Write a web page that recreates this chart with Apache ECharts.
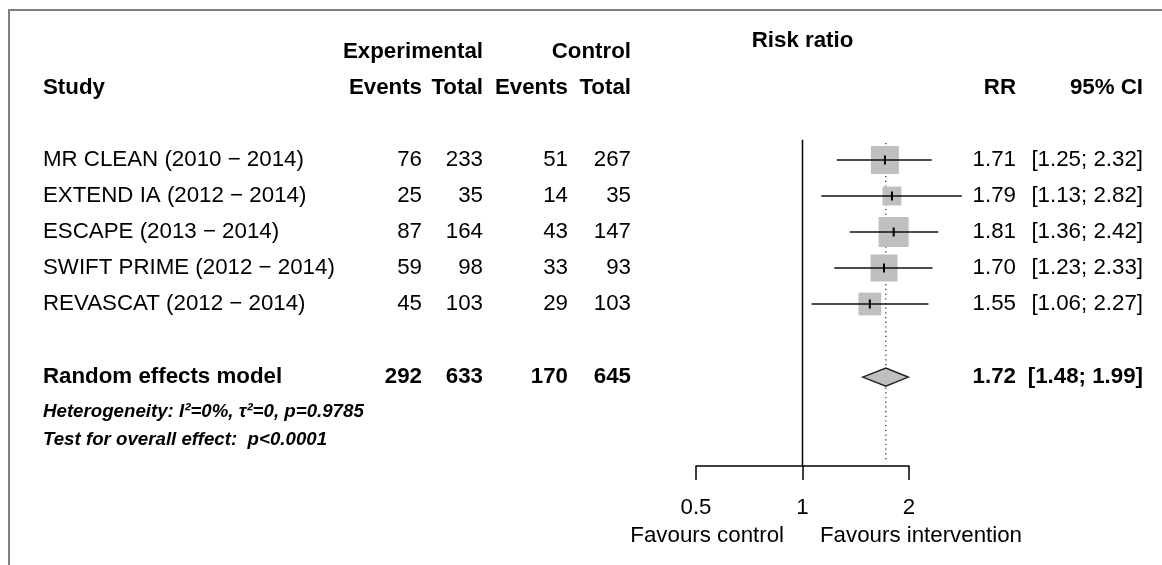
<!DOCTYPE html>
<html>
<head>
<meta charset="utf-8">
<script src="https://cdn.jsdelivr.net/npm/echarts@6/dist/echarts.min.js"></script>
<style>
html,body{margin:0;padding:0;background:#fff;}
#chart{width:1162px;height:565px;}
</style>
</head>
<body>
<div id="chart"></div>
<script>
// ---------------- data ----------------
const studies = ['MR CLEAN (2010 \u2212 2014)', 'EXTEND IA (2012 \u2212 2014)', 'ESCAPE (2013 \u2212 2014)', 'SWIFT PRIME (2012 \u2212 2014)', 'REVASCAT (2012 \u2212 2014)'];
const expEvents = [76, 25, 87, 59, 45];
const expTotal = [233, 35, 164, 98, 103];
const ctrlEvents = [51, 14, 43, 33, 29];
const ctrlTotal = [267, 35, 147, 93, 103];
const rr = [1.71, 1.79, 1.81, 1.70, 1.55];
const ciLower = [1.25, 1.13, 1.36, 1.23, 1.06];
const ciUpper = [2.32, 2.82, 2.42, 2.33, 2.27];
const weights = [23.8, 10.9, 27.4, 22.2, 15.7];
const pooledLabel = 'Random effects model';
const pooledCounts = [292, 633, 170, 645];
const pooledRR = 1.72;
const pooledCI = [1.48, 1.99];
const hetText = 'Heterogeneity: I\u00b2=0%, \u03c4\u00b2=0, p=0.9785';
const testText = 'Test for overall effect:  p<0.0001';
const xTicks = [0.5, 1, 2];
const nullValue = 1;

// ---------------- layout ----------------
const FONT = "'Liberation Sans', Arial, Helvetica, sans-serif";
const FS = 22.3;
const FS_SMALL = 18.7;
const studyRows = studies.map((s, i) => i + 1);
const pooledRow = 7.03;
const hetRow = 8;
const testRow = 8.78;
const headRow1 = -2;
const headRow2 = -1;
const riskRatioRow = -2.31;
const favoursRow = 11.44;

const colStudy = 43, colEE = 422, colET = 483, colCE = 568, colCT = 631, colRR = 1016, colCI = 1143;

const cells = [];
function cell(x, row, text, align, weight, style, size) {
  cells.push({x, row, text: String(text), align, weight: weight || 'normal', style: style || 'normal', size: size || FS});
}
// header
cell(colET, headRow1, 'Experimental', 'right', 'bold');
cell(colCT, headRow1, 'Control', 'right', 'bold');
cell(802.5, riskRatioRow, 'Risk ratio', 'center', 'bold');
cell(colStudy, headRow2, 'Study', 'left', 'bold');
cell(colEE, headRow2, 'Events', 'right', 'bold');
cell(colET, headRow2, 'Total', 'right', 'bold');
cell(colCE, headRow2, 'Events', 'right', 'bold');
cell(colCT, headRow2, 'Total', 'right', 'bold');
cell(colRR, headRow2, 'RR', 'right', 'bold');
cell(colCI, headRow2, '95% CI', 'right', 'bold');
// studies
studies.forEach((s, i) => {
  const r = studyRows[i];
  cell(colStudy, r, s, 'left');
  cell(colEE, r, expEvents[i], 'right');
  cell(colET, r, expTotal[i], 'right');
  cell(colCE, r, ctrlEvents[i], 'right');
  cell(colCT, r, ctrlTotal[i], 'right');
  cell(colRR, r, rr[i].toFixed(2), 'right');
  cell(colCI, r, '[' + ciLower[i].toFixed(2) + '; ' + ciUpper[i].toFixed(2) + ']', 'right');
});
// pooled
cell(colStudy, pooledRow, pooledLabel, 'left', 'bold');
[colEE, colET, colCE, colCT].forEach((c, k) => cell(c, pooledRow, pooledCounts[k], 'right', 'bold'));
cell(colRR, pooledRow, pooledRR.toFixed(2), 'right', 'bold');
cell(colCI, pooledRow, '[' + pooledCI[0].toFixed(2) + '; ' + pooledCI[1].toFixed(2) + ']', 'right', 'bold');
cell(colStudy, hetRow, hetText, 'left', 'bold', 'italic', FS_SMALL);
cell(colStudy, testRow, testText, 'left', 'bold', 'italic', FS_SMALL);
cell(784, favoursRow, 'Favours control', 'right');
cell(820, favoursRow, 'Favours intervention', 'left');

const maxW = Math.max.apply(null, weights);
const studyData = studies.map((s, i) => [ciLower[i], ciUpper[i], rr[i], studyRows[i], weights[i]]);

const chart = echarts.init(document.getElementById('chart'), null, {renderer: 'canvas'});
chart.setOption({
  animation: false,
  backgroundColor: '#fff',
  textStyle: {fontFamily: FONT, color: '#000'},
  graphic: [{
    type: 'polyline', z: 100,
    shape: {points: [[9, 565], [9, 10], [1162, 10]]},
    style: {stroke: '#7f7f7f', lineWidth: 2, fill: null}
  }],
  grid: [
    {left: 696, right: 253, top: 16, bottom: 99},
    {left: 0, right: 0, top: 16, bottom: 0}
  ],
  xAxis: [
    {
      gridIndex: 0, type: 'log', logBase: 2, min: xTicks[0], max: xTicks[xTicks.length - 1],
      axisLine: {show: true, onZero: false, lineStyle: {color: '#000', width: 1.5}},
      axisTick: {show: true, length: 14, lineStyle: {color: '#000', width: 1.5}},
      axisLabel: {show: true, margin: 31, fontSize: FS, color: '#000', fontFamily: FONT,
        formatter: v => String(Math.round(v * 100) / 100)},
      splitLine: {show: false}
    },
    {gridIndex: 1, type: 'value', min: 0, max: 1162, show: false}
  ],
  yAxis: [
    {gridIndex: 0, type: 'value', inverse: true, min: -3, max: 9.5, show: false},
    {gridIndex: 1, type: 'value', inverse: true, min: -3, max: 12.25, show: false}
  ],
  series: [
    // reference lines
    {
      type: 'custom', xAxisIndex: 0, yAxisIndex: 0, clip: false, z: 1,
      data: [[nullValue, 0.44, 9.5, 0], [pooledRR, 0.53, 9.39, 1]],
      renderItem: function (params, api) {
        const a = api.coord([api.value(0), api.value(1)]);
        const b = api.coord([api.value(0), api.value(2)]);
        const dotted = api.value(3) === 1;
        return {
          type: 'line',
          shape: {x1: a[0], y1: a[1], x2: b[0], y2: b[1]},
          style: dotted ? {stroke: '#222', lineWidth: 1.2, lineDash: [1.2, 3.5]} : {stroke: '#000', lineWidth: 1.5}
        };
      }
    },
    // study boxes and CIs
    {
      type: 'custom', xAxisIndex: 0, yAxisIndex: 0, clip: false, z: 2,
      data: studyData,
      renderItem: function (params, api) {
        const row = api.value(3);
        const lo = api.coord([api.value(0), row]);
        const hi = api.coord([api.value(1), row]);
        const c = api.coord([api.value(2), row]);
        const size = 30 * Math.sqrt(api.value(4) / maxW);
        return {
          type: 'group',
          children: [
            {type: 'rect', shape: {x: c[0] - size / 2, y: c[1] - size / 2, width: size, height: size},
              style: {fill: '#bfbfbf', stroke: null}},
            {type: 'line', shape: {x1: lo[0], y1: lo[1], x2: hi[0], y2: hi[1]},
              style: {stroke: '#111', lineWidth: 1.5}},
            {type: 'line', shape: {x1: c[0], y1: c[1] - 4.5, x2: c[0], y2: c[1] + 4.5},
              style: {stroke: '#000', lineWidth: 2}}
          ]
        };
      }
    },
    // pooled diamond
    {
      type: 'custom', xAxisIndex: 0, yAxisIndex: 0, clip: false, z: 3,
      data: [[pooledCI[0], pooledCI[1], pooledRR, pooledRow]],
      renderItem: function (params, api) {
        const row = api.value(3);
        const lo = api.coord([api.value(0), row]);
        const hi = api.coord([api.value(1), row]);
        const c = api.coord([api.value(2), row]);
        const h = 9;
        return {
          type: 'polygon',
          shape: {points: [[lo[0], lo[1]], [c[0], c[1] - h], [hi[0], hi[1]], [c[0], c[1] + h]]},
          style: {fill: '#bfbfbf', stroke: '#222', lineWidth: 1.5}
        };
      }
    },
    // table text
    {
      type: 'custom', xAxisIndex: 1, yAxisIndex: 1, clip: false, z: 5,
      data: cells.map(c => [c.x, c.row]),
      renderItem: function (params, api) {
        const c = cells[params.dataIndex];
        const p = api.coord([api.value(0), api.value(1)]);
        return {
          type: 'text',
          x: p[0], y: p[1],
          style: {
            text: c.text, align: c.align, verticalAlign: 'middle',
            fill: '#000',
            font: c.style + ' ' + c.weight + ' ' + c.size + 'px ' + FONT
          }
        };
      }
    }
  ]
});
</script>
</body>
</html>
